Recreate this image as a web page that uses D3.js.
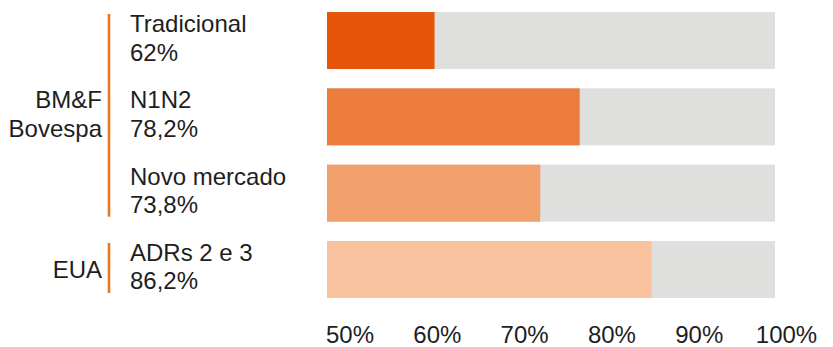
<!DOCTYPE html>
<html>
<head>
<meta charset="utf-8">
<script src="https://cdn.jsdelivr.net/npm/d3@7"></script>
<style>
  html, body { margin: 0; padding: 0; background: #fff; }
  svg { display: block; }
  text { font-family: "Liberation Sans", Arial, sans-serif; fill: #1e1e1e; }
</style>
</head>
<body>
<svg id="chart" width="833" height="347"></svg>
<script>
// Share of companies per listing segment (%)
const categories = ["Tradicional", "N1N2", "Novo mercado", "ADRs 2 e 3"];
const values = [62, 78.2, 73.8, 86.2];
const groupOf = ["BM&F Bovespa", "BM&F Bovespa", "BM&F Bovespa", "EUA"];
const groupLines = { "BM&F Bovespa": ["BM&F", "Bovespa"], "EUA": ["EUA"] };
const barColors = ["#e5560a", "#eb7c3c", "#f1a06c", "#f7c29d"];
const tickLabels = ["50%", "60%", "70%", "80%", "90%", "100%"];
const domainMin = 50, domainMax = 100;

const svg = d3.select("#chart");
const fmt = v => d3.format(".1~f")(v).replace(".", ",") + "%";

const x = d3.scaleLinear().domain([domainMin, domainMax]).range([327, 775]);
const y = d3.scaleBand().domain(categories).range([12, 298]).paddingInner(0.253).paddingOuter(0);

// background tracks
svg.append("g").selectAll("rect").data(categories).join("rect")
  .attr("x", x(domainMin))
  .attr("y", d => y(d))
  .attr("width", x(domainMax) - x(domainMin))
  .attr("height", y.bandwidth())
  .attr("fill", "#dfdfdd");

// value bars
svg.append("g").selectAll("rect").data(categories).join("rect")
  .attr("x", x(domainMin))
  .attr("y", d => y(d))
  .attr("width", (d, i) => x(values[i]) - x(domainMin))
  .attr("height", y.bandwidth())
  .attr("fill", (d, i) => barColors[i]);

// category labels: name + value
const lab = svg.append("g").selectAll("text").data(categories).join("text")
  .attr("x", 130)
  .attr("font-size", 24);
lab.append("tspan")
  .attr("x", 130)
  .attr("y", d => y(d) + y.bandwidth() / 2 - 8.5)
  .text(d => d);
lab.append("tspan")
  .attr("x", 130)
  .attr("y", d => y(d) + y.bandwidth() / 2 + 20)
  .text((d, i) => fmt(values[i]));

// group brackets and labels
const groups = Array.from(new Set(groupOf));
groups.forEach(g => {
  const members = categories.filter((c, i) => groupOf[i] === g);
  const top = y(members[0]);
  const bottom = y(members[members.length - 1]) + y.bandwidth();
  const mid = (top + bottom) / 2;
  svg.append("line")
    .attr("x1", 109).attr("x2", 109)
    .attr("y1", top + 2).attr("y2", bottom - 5)
    .attr("stroke", "#e8761e").attr("stroke-width", 2.6);
  const lines = groupLines[g];
  const t = svg.append("text").attr("font-size", 24).attr("text-anchor", "end");
  if (lines.length === 1) {
    t.append("tspan").attr("x", 102).attr("y", mid + 8.5).text(lines[0]);
  } else {
    t.append("tspan").attr("x", 102).attr("y", mid - 8.5).text(lines[0]);
    t.append("tspan").attr("x", 102).attr("y", mid + 20.5).text(lines[1]);
  }
});

// bottom axis labels
const xt = d3.scalePoint().domain(tickLabels).range([349.5, 786]);
const axis = svg.append("g")
  .attr("transform", "translate(0,326)")
  .call(d3.axisBottom(xt).tickSize(0).tickPadding(0));
axis.select(".domain").remove();
axis.selectAll("text")
  .attr("font-size", 24)
  .attr("dy", "0.71em")
  .style("font-family", "'Liberation Sans', Arial, sans-serif")
  .attr("fill", "#1e1e1e");
</script>
</body>
</html>
